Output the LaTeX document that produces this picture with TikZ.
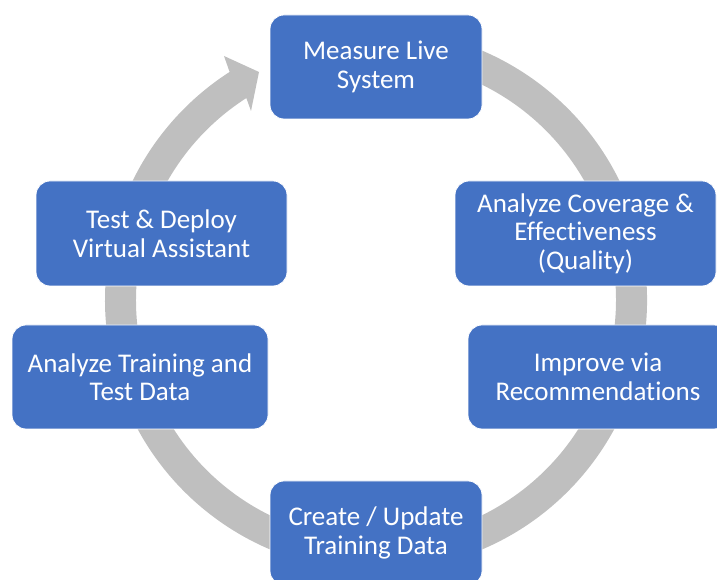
\documentclass[tikz,border=0pt]{standalone}
\usepackage{fontspec}
\setmainfont[Ligatures=NoCommon]{Carlito}
\definecolor{boxblue}{HTML}{4472C4}
\definecolor{ringgray}{HTML}{BFBFBF}
\begin{document}
\begin{tikzpicture}[x=1pt,y=1pt,
  stagebox/.style={fill=boxblue, draw=white, line width=0.8pt, rounded corners=14pt,
    text=white, align=center, inner sep=0pt,
    font=\fontsize{27}{28.5}\selectfont},
  ringfill/.style={fill=ringgray}]
  \useasboundingbox (0,0) rectangle (717,580);
  \begin{scope}
    \clip (0,0) rectangle (717,580);
    % cycle ring with a single arrowhead pointing at the first stage
    \coordinate (hub) at (376,280);
    \begin{scope}[shift={(hub)}]
      \fill[ringfill] (100:271) arc[start angle=100, end angle=-237.3, radius=271]
        -- (-152,244) -- (-117,228) -- (-125,189)
        -- (-237.3:240) arc[start angle=-237.3, end angle=100, radius=240] -- cycle;
    \end{scope}
    % stages
    \node[stagebox, minimum width=212pt, minimum height=104pt] (meas) at (376,513)
      {Measure Live\\System};
    \node[stagebox, minimum width=261pt, minimum height=105pt] (cover) at (585.5,346.5)
      {Analyze Coverage \&\\Effectiveness\\(Quality)};
    \node[stagebox, minimum width=260pt, minimum height=104pt] (improve) at (598,203)
      {Improve via\\Recommendations};
    \node[stagebox, minimum width=212pt, minimum height=104pt] (create) at (376,47)
      {Create / Update\\Training Data};
    \node[stagebox, minimum width=256pt, minimum height=104pt] (train) at (140,203)
      {Analyze Training and\\Test Data};
    \node[stagebox, minimum width=251pt, minimum height=105pt] (deploy) at (161.5,346.5)
      {Test \& Deploy\\Virtual Assistant};
  \end{scope}
\end{tikzpicture}
\end{document}
